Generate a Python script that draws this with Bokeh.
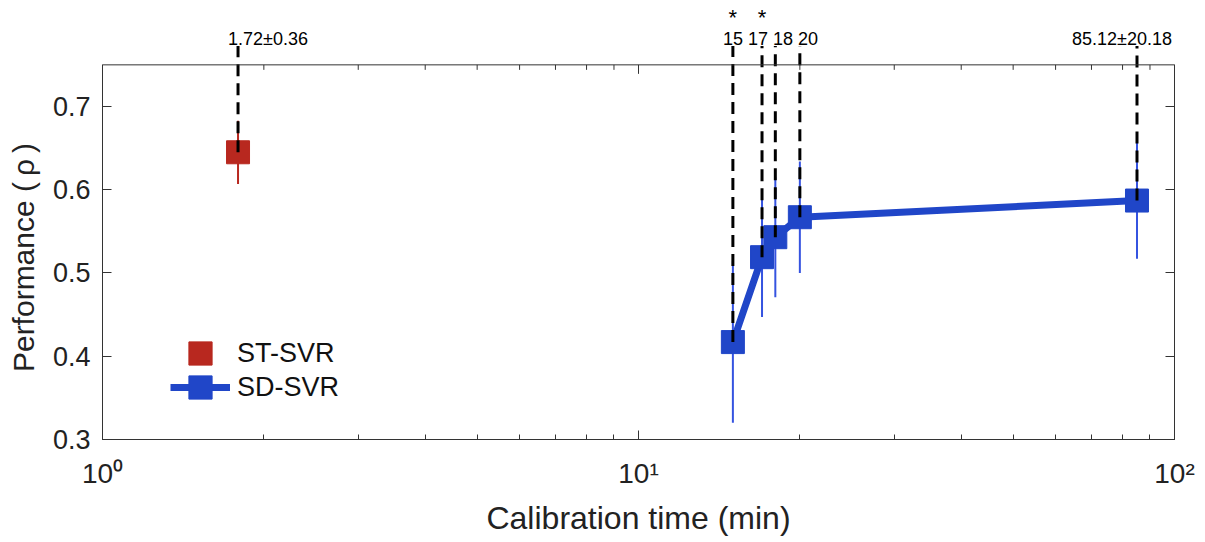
import math
from bokeh.plotting import figure
from bokeh.models import (ColumnDataSource, Label, LabelSet, Legend, LegendItem, Span,
                          LinearAxis, LogTicker, FixedTicker, Range1d)
from bokeh.core.properties import value
from bokeh.embed import file_html
from bokeh.resources import INLINE

# ---- data ----
st_time = [1.79]
st_perf = [0.645]
st_err = [0.038]
st_labels = ["1.72±0.36"]

sd_time = [15, 17, 18, 20, 85.12]
sd_perf = [0.417, 0.519, 0.543, 0.567, 0.587]
sd_err = [0.097, 0.072, 0.072, 0.067, 0.070]
sd_labels = ["15", "17", "18", "20", "85.12±20.18"]
sd_signif = [True, True, False, False, False]

y_ticks = [0.3, 0.4, 0.5, 0.6, 0.7]
x_tick_labels = {1: "10⁰", 10: "10¹", 100: "10²"}
x_decades = [1, 10]

RED = "#B8281F"
BLUE = "#2046C8"
ERR_BLUE = "#3553E0"
FONT = "Liberation Sans"
AXIS_TOP = 0.75          # top edge of the axes box
LABEL_Y = 0.7816         # baseline of the annotations above the box
DASH_TOP = 0.7726
STAR_Y = 0.798

p = figure(width=1205, height=542, x_axis_type="log",
           x_range=Range1d(1, 100), y_range=Range1d(0.3, 0.8273),
           output_backend="svg", toolbar_location=None,
           min_border_left=102, min_border_right=31, min_border_top=0,
           min_border_bottom=103)
p.background_fill_color = "white"
p.border_fill_color = "white"
p.outline_line_color = None
p.xgrid.visible = False
p.ygrid.visible = False

# top edge of the box with inward ticks
p.add_layout(Span(location=AXIS_TOP, dimension="width", line_color="#333333",
                  line_width=1))
minor_x = [k * d for d in x_decades for k in range(2, 10)]
p.ray(x=minor_x, y=[AXIS_TOP] * len(minor_x), length=5, length_units="screen",
      angle=-math.pi / 2, line_color="#333333", line_width=1)
p.ray(x=[10], y=[AXIS_TOP], length=9, length_units="screen",
      angle=-math.pi / 2, line_color="#333333", line_width=1)

# error bars
p.segment(x0=st_time, x1=st_time,
          y0=[v - e for v, e in zip(st_perf, st_err)],
          y1=[v + e for v, e in zip(st_perf, st_err)],
          line_color=RED, line_width=2)
p.segment(x0=sd_time, x1=sd_time,
          y0=[v - e for v, e in zip(sd_perf, sd_err)],
          y1=[v + e for v, e in zip(sd_perf, sd_err)],
          line_color=ERR_BLUE, line_width=2)

sd_line = p.line(sd_time, sd_perf, line_color=BLUE, line_width=7)
sd_mark = p.scatter(sd_time, sd_perf, marker="square", size=23,
                    fill_color=BLUE, line_color=BLUE)
st_mark = p.scatter(st_time, st_perf, marker="square", size=23,
                    fill_color=RED, line_color=RED)

# dashed guide lines above each point
all_x = st_time + sd_time
all_y = st_perf + sd_perf
guide_src = ColumnDataSource(dict(x=all_x, y=all_y, top=[DASH_TOP] * len(all_x)))
p.segment(x0="x", y0="y", x1="x", y1="top", source=guide_src,
          line_color="black", line_width=3, line_dash="12 7")

# labels above the box
lab_style = dict(y=LABEL_Y, text_baseline="alphabetic", text_font=FONT,
                 text_font_size="18px", text_color="black")
p.add_layout(Label(x=st_time[0], text=st_labels[0], text_align="left",
                   x_offset=-10, **lab_style))
p.add_layout(Label(x=sd_time[0], text=" ".join(sd_labels[:4]), text_align="left",
                   x_offset=-10, **lab_style))
p.add_layout(Label(x=sd_time[-1], text=sd_labels[-1], text_align="right",
                   x_offset=35, **lab_style))

star_x = [t for t, s in zip(sd_time, sd_signif) if s]
star_src = ColumnDataSource(dict(x=star_x, sy=[STAR_Y] * len(star_x),
                                 star=["*"] * len(star_x)))
p.add_layout(LabelSet(x="x", y="sy", text="star", source=star_src,
                      text_align="center", text_baseline="alphabetic",
                      text_font=value(FONT), text_font_size="22px",
                      text_color="black"))

# axes
def style_axis(ax):
    ax.axis_line_color = "#333333"
    ax.major_tick_in = 9
    ax.major_tick_out = 0
    ax.minor_tick_in = 5
    ax.minor_tick_out = 0
    ax.major_tick_line_color = "#333333"
    ax.minor_tick_line_color = "#333333"
    ax.major_label_text_font = FONT
    ax.major_label_text_color = "#222222"
    ax.axis_label_text_font = FONT
    ax.axis_label_text_font_style = "normal"
    ax.axis_label_text_color = "#222222"

xa = p.xaxis[0]
xa.ticker = LogTicker(num_minor_ticks=10)
xa.major_label_overrides = x_tick_labels
style_axis(xa)
xa.major_label_text_font_size = "28px"
xa.major_label_standoff = 18
xa.axis_label = "Calibration time (min)"
xa.axis_label_text_font_size = "32px"
xa.axis_label_standoff = 8

ya = p.yaxis[0]
ya.ticker = FixedTicker(ticks=y_ticks)
ya.bounds = (0.3, AXIS_TOP)
style_axis(ya)
ya.minor_tick_in = 0
ya.major_label_text_font_size = "27px"
ya.major_label_standoff = 12
# trailing em-spaces keep the title centred on the box rather than the canvas
ya.axis_label = "Performance (\u2009ρ\u2009)\u2003\u2003\u2002"
ya.axis_label_text_font_size = "30px"
ya.axis_label_standoff = 10

right = LinearAxis(ticker=FixedTicker(ticks=y_ticks), bounds=(0.3, AXIS_TOP))
style_axis(right)
right.minor_tick_in = 0
right.major_label_text_alpha = 0
right.major_label_text_font_size = "2px"
right.major_label_standoff = 0
p.add_layout(right, "right")

legend_style = dict(padding=0, margin=0, spacing=0,
                    glyph_width=60, glyph_height=58, label_height=58,
                    label_standoff=7, border_line_color=None,
                    background_fill_alpha=0,
                    label_text_font=FONT, label_text_font_size="27px",
                    label_text_color="#111111")
leg1 = Legend(items=[LegendItem(label="ST-SVR", renderers=[st_mark])],
              location=(68, 57), **legend_style)
leg2 = Legend(items=[LegendItem(label="SD-SVR", renderers=[sd_line, sd_mark])],
              location=(68, 23), **legend_style)
p.add_layout(leg1)
p.add_layout(leg2)

open("out.html", "w").write(file_html(p, INLINE))
